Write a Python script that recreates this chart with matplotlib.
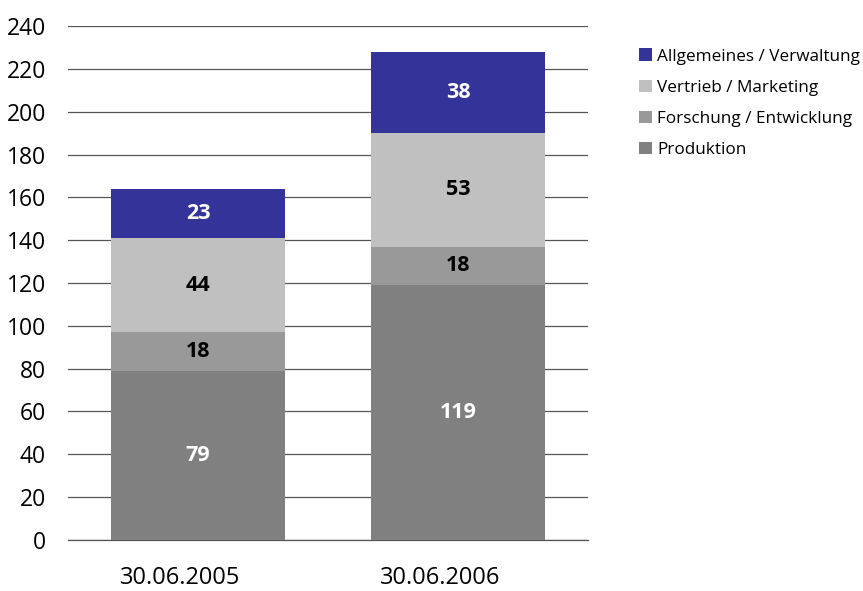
import numpy as np
import matplotlib.pyplot as plt
from matplotlib.transforms import ScaledTranslation

plt.rcParams['font.family'] = ['Open Sans', 'DejaVu Sans']

dates = ["30.06.2005", "30.06.2006"]
segments = ["Produktion", "Forschung / Entwicklung", "Vertrieb / Marketing", "Allgemeines / Verwaltung"]
produktion = [79, 119]
forschung = [18, 18]
vertrieb = [44, 53]
allgemein = [23, 38]

colors = ["#808080", "#999999", "#c0c0c0", "#333399"]
text_colors = ["white", "black", "black", "white"]

fig = plt.figure(figsize=(8.63, 5.91), dpi=100)
ax = fig.add_axes([0.0788, 0.0863, 0.6025, 0.8697])

x = np.arange(len(dates))
bottom = np.zeros(len(dates))
handles = []
for vals, col, tc, name in zip([produktion, forschung, vertrieb, allgemein], colors, text_colors, segments):
    vals = np.array(vals)
    b = ax.bar(x, vals, width=0.67, bottom=bottom, color=col, label=name, zorder=3)
    handles.append(b)
    for xi, v, bt in zip(x, vals, bottom):
        ax.text(xi, bt + v / 2, str(v), ha="center", va="center", color=tc,
                fontsize=15.5, fontweight="bold", zorder=4)
    bottom = bottom + vals

ax.set_xlim(-0.5, 1.5)
ax.set_ylim(0, 240)
ax.set_yticks(range(0, 241, 20))
ax.set_xticks(x)
ax.set_xticklabels(dates)
ax.tick_params(axis="y", length=0, pad=16, labelsize=16.5)
ax.tick_params(axis="x", length=0, pad=19, labelsize=17)
# the original labels sit a bit left of the bar centres
shift = ScaledTranslation(-18 / 100, 0, fig.dpi_scale_trans)
for lab in ax.get_xticklabels():
    lab.set_transform(lab.get_transform() + shift)
ax.yaxis.grid(True, color="#555555", linewidth=0.9, zorder=0)
ax.axhline(0, color="#555555", linewidth=0.9, zorder=0, clip_on=False)
for s in ax.spines.values():
    s.set_visible(False)

fig.legend(handles[::-1], segments[::-1], loc="upper left", bbox_to_anchor=(0.741, 0.918),
           frameon=False, fontsize=12.3, handlelength=0.75, handleheight=0.75,
           handletextpad=0.3, labelspacing=0.87, borderaxespad=0, borderpad=0)

fig.savefig("out.png", dpi=100)
